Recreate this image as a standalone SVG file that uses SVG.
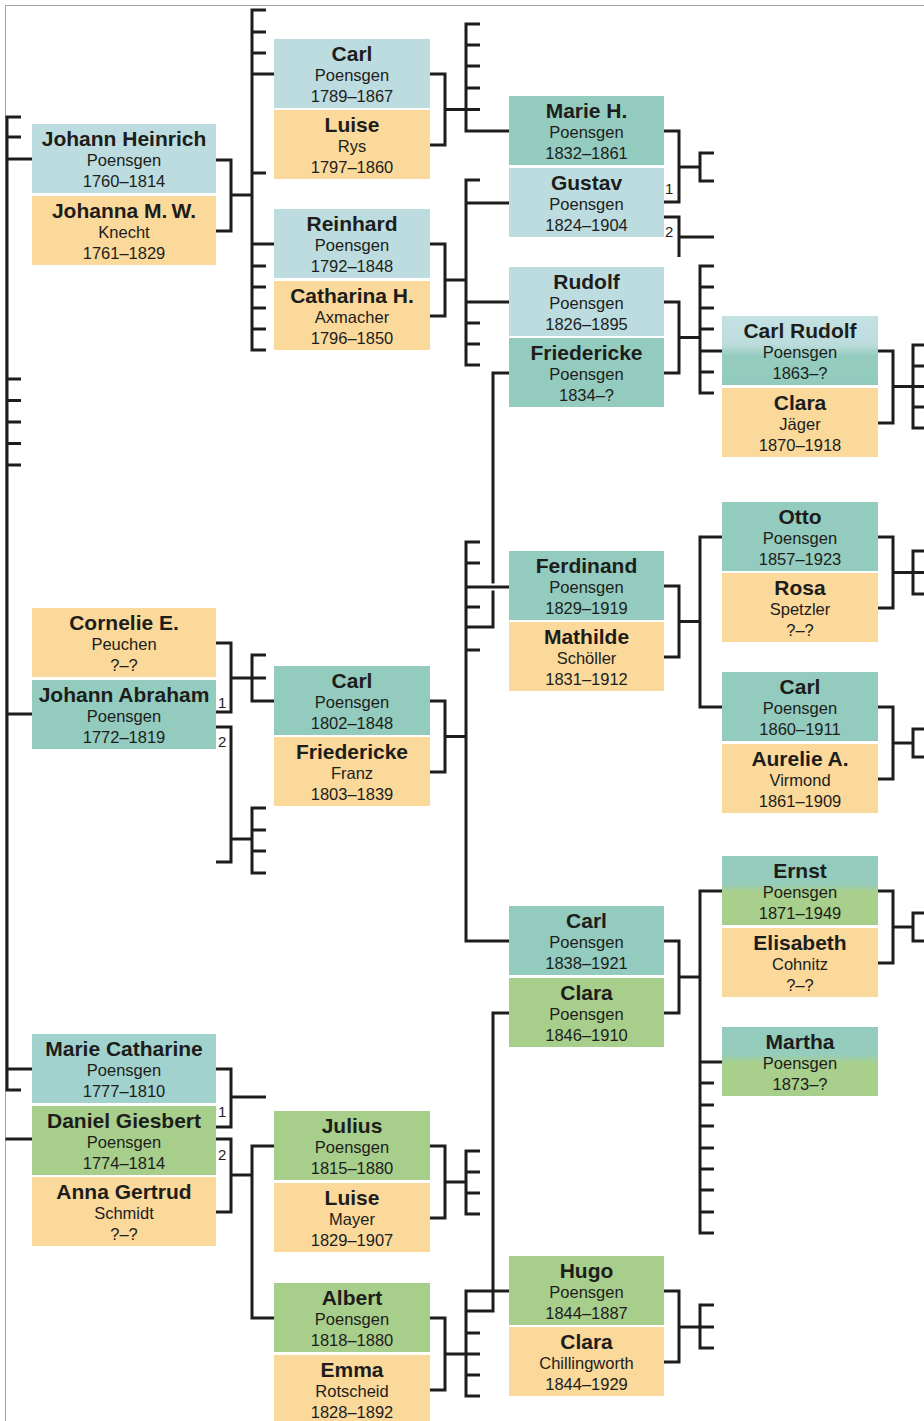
<svg xmlns="http://www.w3.org/2000/svg" width="924" height="1421" viewBox="0 0 924 1421">
<defs>
<linearGradient id="gBT" x1="0" y1="0" x2="0" y2="1"><stop offset="0" stop-color="#c4e1e4"/><stop offset="0.42" stop-color="#bcdcdc"/><stop offset="0.58" stop-color="#95ccbf"/><stop offset="1" stop-color="#92cbbd"/></linearGradient>
<linearGradient id="gTG" x1="0" y1="0" x2="0" y2="1"><stop offset="0" stop-color="#93cbbe"/><stop offset="0.4" stop-color="#95ccbc"/><stop offset="0.52" stop-color="#a8cf8c"/><stop offset="1" stop-color="#a8ce8b"/></linearGradient>
<style>
.b{fill:#bcdcdf}
.t{fill:#93cbbe}
.o{fill:#fad99b}
.g{fill:#a8ce8b}
.mc{fill:#a2d2cd}
.bt{fill:url(#gBT)}
.tg{fill:url(#gTG)}
text{font-family:"Liberation Sans",Arial,sans-serif;fill:#1d1d1b;text-anchor:middle}
.n{font-size:21px;font-weight:bold}
.s{font-size:16.5px}
.m{font-size:15px;text-anchor:start}
.c{fill:none;stroke:#1d1d1b;stroke-width:3;stroke-linejoin:miter;stroke-linecap:butt}
</style>
</defs>
<rect x="0" y="0" width="924" height="1421" fill="#ffffff"/>
<path d="M5.5,1421 V5.5 H924" fill="none" stroke="#a3a3a3" stroke-width="1"/>

<g id="connectors" class="c">
<path d="M21,117 H7 V1090 H21 M7,137 H21 M7,159 H32 M7,379 H21 M7,400.5 H21 M7,422 H21 M7,443.5 H21 M7,465 H21 M7,714 H32 M7,1069 H32 M5.5,1139 H32"/>
<path d="M216,160 H231 V231 H216 M231,195 H252"/>
<path d="M266,10 H252 V350 H266 M252,32 H266 M252,53 H266 M252,74 H274 M252,173 H266 M252,244 H274 M252,266 H266 M252,287 H266 M252,308 H266 M252,329 H266"/>
<path d="M430,74 H445 V145 H430 M445,109.5 H480"/>
<path d="M480,24 H466 V131 H509 M466,45 H480 M466,66 H480 M466,88 H480"/>
<path d="M430,244 H445 V316 H430 M445,280 H466"/>
<path d="M480,180 H466 V365 H480 M466,203 H509 M466,302 H509 M466,323 H480 M466,344 H480"/>
<path d="M664,131 H679 V202 H664 M679,167 H700 M714,153 H700 V181 H714"/>
<path d="M664,217 H679 V257 M679,237 H714"/>
<path d="M664,302 H679 V373 H664 M679,337.5 H700"/>
<path d="M714,266 H700 V393 H714 M700,287 H714 M700,308 H714 M700,329 H714 M700,351 H722 M700,372 H714"/>
<path d="M509,373 H493 V583.5 M493,590.5 V627 H466"/>
<path d="M878,351 H893 V423 H878 M893,386.5 H924"/>
<path d="M924,345 H913 V428 H924 M913,366 H924 M913,407 H924"/>
<path d="M216,643 H231 V712 H216 M231,678 H266"/>
<path d="M266,655 H252 V701 H274"/>
<path d="M216,727 H231 V862 H216 M231,839 H252"/>
<path d="M266,808 H252 V873 H266 M252,830 H266 M252,851 H266"/>
<path d="M430,701 H445 V772 H430 M445,736.5 H466"/>
<path d="M480,542 H466 V941 H509 M466,563 H480 M466,587 H509 M466,607 H480 M466,650 H480"/>
<path d="M664,586 H679 V657 H664 M679,621.5 H700"/>
<path d="M722,537 H700 V707 H722"/>
<path d="M878,537 H893 V608 H878 M893,572.5 H924"/>
<path d="M924,551 H913 V594 H924"/>
<path d="M878,707 H893 V779 H878 M893,743 H913 M924,729 H913 V757 H924"/>
<path d="M664,941 H679 V1013 H664 M679,977 H700"/>
<path d="M722,891 H700 V1233 H714 M700,1062 H722 M700,1083 H714 M700,1105 H714 M700,1126 H714 M700,1148 H714 M700,1169 H714 M700,1190 H714 M700,1212 H714"/>
<path d="M878,891 H893 V963 H878 M893,927 H913 M924,913 H913 V941 H924"/>
<path d="M509,1013 H493 V1311 H466"/>
<path d="M216,1069 H231 V1127 H216 M231,1097 H266"/>
<path d="M216,1139 H231 V1212 H216 M231,1175 H252 M274,1146 H252 V1318 H274"/>
<path d="M430,1146 H445 V1218 H430 M445,1182 H466 M480,1151 H466 V1214 H480 M466,1172 H480 M466,1193 H480"/>
<path d="M430,1318 H445 V1390 H430 M445,1354 H480 M509,1291 H466 V1396 H480 M466,1333 H480 M466,1375 H480"/>
<path d="M664,1291 H679 V1362 H664 M679,1327 H714 M714,1305 H700 V1348 H714"/>
</g>

<g id="marriage-labels">
<text class="m" x="665" y="194">1</text>
<text class="m" x="665" y="237">2</text>
<text class="m" x="218" y="708">1</text>
<text class="m" x="218" y="747">2</text>
<text class="m" x="218" y="1117">1</text>
<text class="m" x="218" y="1160">2</text>
</g>

<g id="johann-heinrich"><rect class="b" x="32" y="124" width="184" height="69"/><text class="n" x="124" y="146">Johann Heinrich</text><text class="s" x="124" y="166">Poensgen</text><text class="s" x="124" y="187">1760–1814</text></g>
<g id="johanna-mw"><rect class="o" x="32" y="196" width="184" height="69"/><text class="n" x="124" y="218">Johanna M.&#8201;W.</text><text class="s" x="124" y="238">Knecht</text><text class="s" x="124" y="259">1761–1829</text></g>
<g id="cornelie-e"><rect class="o" x="32" y="608" width="184" height="69"/><text class="n" x="124" y="630">Cornelie E.</text><text class="s" x="124" y="650">Peuchen</text><text class="s" x="124" y="671">?–?</text></g>
<g id="johann-abraham"><rect class="t" x="32" y="680" width="184" height="69"/><text class="n" x="124" y="702">Johann Abraham</text><text class="s" x="124" y="722">Poensgen</text><text class="s" x="124" y="743">1772–1819</text></g>
<g id="marie-catharine"><rect class="mc" x="32" y="1034" width="184" height="69"/><text class="n" x="124" y="1056">Marie Catharine</text><text class="s" x="124" y="1076">Poensgen</text><text class="s" x="124" y="1097">1777–1810</text></g>
<g id="daniel-giesbert"><rect class="g" x="32" y="1106" width="184" height="69"/><text class="n" x="124" y="1128">Daniel Giesbert</text><text class="s" x="124" y="1148">Poensgen</text><text class="s" x="124" y="1169">1774–1814</text></g>
<g id="anna-gertrud"><rect class="o" x="32" y="1177" width="184" height="69"/><text class="n" x="124" y="1199">Anna Gertrud</text><text class="s" x="124" y="1219">Schmidt</text><text class="s" x="124" y="1240">?–?</text></g>

<g id="carl-1789"><rect class="b" x="274" y="39" width="156" height="69"/><text class="n" x="352" y="61">Carl</text><text class="s" x="352" y="81">Poensgen</text><text class="s" x="352" y="102">1789–1867</text></g>
<g id="luise-rys"><rect class="o" x="274" y="110" width="156" height="69"/><text class="n" x="352" y="132">Luise</text><text class="s" x="352" y="152">Rys</text><text class="s" x="352" y="173">1797–1860</text></g>
<g id="reinhard"><rect class="b" x="274" y="209" width="156" height="69"/><text class="n" x="352" y="231">Reinhard</text><text class="s" x="352" y="251">Poensgen</text><text class="s" x="352" y="272">1792–1848</text></g>
<g id="catharina-h"><rect class="o" x="274" y="281" width="156" height="69"/><text class="n" x="352" y="303">Catharina H.</text><text class="s" x="352" y="323">Axmacher</text><text class="s" x="352" y="344">1796–1850</text></g>
<g id="carl-1802"><rect class="t" x="274" y="666" width="156" height="69"/><text class="n" x="352" y="688">Carl</text><text class="s" x="352" y="708">Poensgen</text><text class="s" x="352" y="729">1802–1848</text></g>
<g id="friedericke-franz"><rect class="o" x="274" y="737" width="156" height="69"/><text class="n" x="352" y="759">Friedericke</text><text class="s" x="352" y="779">Franz</text><text class="s" x="352" y="800">1803–1839</text></g>
<g id="julius"><rect class="g" x="274" y="1111" width="156" height="69"/><text class="n" x="352" y="1133">Julius</text><text class="s" x="352" y="1153">Poensgen</text><text class="s" x="352" y="1174">1815–1880</text></g>
<g id="luise-mayer"><rect class="o" x="274" y="1183" width="156" height="69"/><text class="n" x="352" y="1205">Luise</text><text class="s" x="352" y="1225">Mayer</text><text class="s" x="352" y="1246">1829–1907</text></g>
<g id="albert"><rect class="g" x="274" y="1283" width="156" height="69"/><text class="n" x="352" y="1305">Albert</text><text class="s" x="352" y="1325">Poensgen</text><text class="s" x="352" y="1346">1818–1880</text></g>
<g id="emma"><rect class="o" x="274" y="1355" width="156" height="69"/><text class="n" x="352" y="1377">Emma</text><text class="s" x="352" y="1397">Rotscheid</text><text class="s" x="352" y="1418">1828–1892</text></g>

<g id="marie-h"><rect class="t" x="509" y="96" width="155" height="69"/><text class="n" x="586.5" y="118">Marie H.</text><text class="s" x="586.5" y="138">Poensgen</text><text class="s" x="586.5" y="159">1832–1861</text></g>
<g id="gustav"><rect class="b" x="509" y="168" width="155" height="69"/><text class="n" x="586.5" y="190">Gustav</text><text class="s" x="586.5" y="210">Poensgen</text><text class="s" x="586.5" y="231">1824–1904</text></g>
<g id="rudolf"><rect class="b" x="509" y="267" width="155" height="69"/><text class="n" x="586.5" y="289">Rudolf</text><text class="s" x="586.5" y="309">Poensgen</text><text class="s" x="586.5" y="330">1826–1895</text></g>
<g id="friedericke-poensgen"><rect class="t" x="509" y="338" width="155" height="69"/><text class="n" x="586.5" y="360">Friedericke</text><text class="s" x="586.5" y="380">Poensgen</text><text class="s" x="586.5" y="401">1834–?</text></g>
<g id="ferdinand"><rect class="t" x="509" y="551" width="155" height="69"/><text class="n" x="586.5" y="573">Ferdinand</text><text class="s" x="586.5" y="593">Poensgen</text><text class="s" x="586.5" y="614">1829–1919</text></g>
<g id="mathilde"><rect class="o" x="509" y="622" width="155" height="69"/><text class="n" x="586.5" y="644">Mathilde</text><text class="s" x="586.5" y="664">Schöller</text><text class="s" x="586.5" y="685">1831–1912</text></g>
<g id="carl-1838"><rect class="t" x="509" y="906" width="155" height="69"/><text class="n" x="586.5" y="928">Carl</text><text class="s" x="586.5" y="948">Poensgen</text><text class="s" x="586.5" y="969">1838–1921</text></g>
<g id="clara-poensgen"><rect class="g" x="509" y="978" width="155" height="69"/><text class="n" x="586.5" y="1000">Clara</text><text class="s" x="586.5" y="1020">Poensgen</text><text class="s" x="586.5" y="1041">1846–1910</text></g>
<g id="hugo"><rect class="g" x="509" y="1256" width="155" height="69"/><text class="n" x="586.5" y="1278">Hugo</text><text class="s" x="586.5" y="1298">Poensgen</text><text class="s" x="586.5" y="1319">1844–1887</text></g>
<g id="clara-chillingworth"><rect class="o" x="509" y="1327" width="155" height="69"/><text class="n" x="586.5" y="1349">Clara</text><text class="s" x="586.5" y="1369">Chillingworth</text><text class="s" x="586.5" y="1390">1844–1929</text></g>

<g id="carl-rudolf"><rect class="bt" x="722" y="316" width="156" height="69"/><text class="n" x="800" y="338">Carl Rudolf</text><text class="s" x="800" y="358">Poensgen</text><text class="s" x="800" y="379">1863–?</text></g>
<g id="clara-jaeger"><rect class="o" x="722" y="388" width="156" height="69"/><text class="n" x="800" y="410">Clara</text><text class="s" x="800" y="430">Jäger</text><text class="s" x="800" y="451">1870–1918</text></g>
<g id="otto"><rect class="t" x="722" y="502" width="156" height="69"/><text class="n" x="800" y="524">Otto</text><text class="s" x="800" y="544">Poensgen</text><text class="s" x="800" y="565">1857–1923</text></g>
<g id="rosa"><rect class="o" x="722" y="573" width="156" height="69"/><text class="n" x="800" y="595">Rosa</text><text class="s" x="800" y="615">Spetzler</text><text class="s" x="800" y="636">?–?</text></g>
<g id="carl-1860"><rect class="t" x="722" y="672" width="156" height="69"/><text class="n" x="800" y="694">Carl</text><text class="s" x="800" y="714">Poensgen</text><text class="s" x="800" y="735">1860–1911</text></g>
<g id="aurelie-a"><rect class="o" x="722" y="744" width="156" height="69"/><text class="n" x="800" y="766">Aurelie A.</text><text class="s" x="800" y="786">Virmond</text><text class="s" x="800" y="807">1861–1909</text></g>
<g id="ernst"><rect class="tg" x="722" y="856" width="156" height="69"/><text class="n" x="800" y="878">Ernst</text><text class="s" x="800" y="898">Poensgen</text><text class="s" x="800" y="919">1871–1949</text></g>
<g id="elisabeth"><rect class="o" x="722" y="928" width="156" height="69"/><text class="n" x="800" y="950">Elisabeth</text><text class="s" x="800" y="970">Cohnitz</text><text class="s" x="800" y="991">?–?</text></g>
<g id="martha"><rect class="tg" x="722" y="1027" width="156" height="69"/><text class="n" x="800" y="1049">Martha</text><text class="s" x="800" y="1069">Poensgen</text><text class="s" x="800" y="1090">1873–?</text></g>
</svg>
